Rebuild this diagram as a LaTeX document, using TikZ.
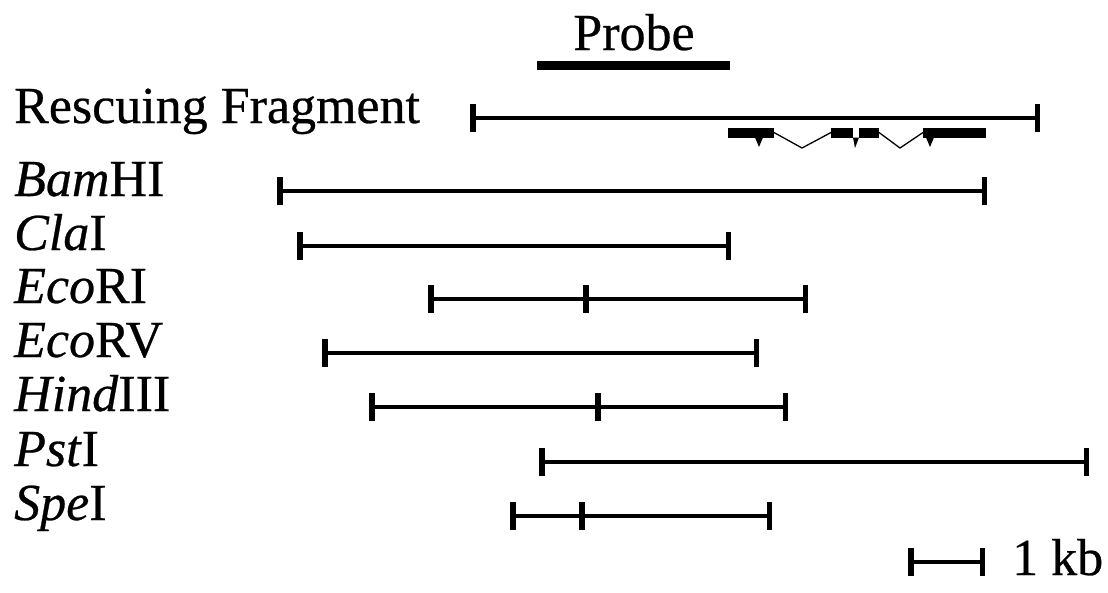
\documentclass[tikz,border=0pt]{standalone}
\usepackage{fontspec}
\setmainfont{Liberation Serif}[UprightFeatures={FakeBold=0.5},ItalicFeatures={FakeBold=0.5}]
\usetikzlibrary{arrows.meta}
\begin{document}
\begin{tikzpicture}[x=1pt,y=-1pt,
  lbl/.style={anchor=base west, inner sep=0pt, font=\fontsize{52}{56}\selectfont},
  frag/.style={line width=4.5pt, {Bar[width=28pt,line width=5.5pt]}-{Bar[width=28pt,line width=5.5pt]}},
  cut/.style={line width=5.5pt},
  exon/.style={fill=black, draw=black, line width=1pt},
  intron/.style={line width=1.3pt}]
\useasboundingbox (0,0) rectangle (1108,592);
% probe
\node[lbl, anchor=base] (probe) at (634,50) {Probe};
\coordinate (pa) at (537,65);
\coordinate (pb) at (730,65);
\draw[line width=9pt] (pa) -- (pb);
% labels
\node[lbl] (rf) at (14,123) {Rescuing Fragment};
\node[lbl] (bam) at (14,196) {\textit{Bam}HI};
\node[lbl] (cla) at (14,250) {\textit{Cla}I};
\node[lbl] (ecori) at (14,303) {\textit{Eco}RI};
\node[lbl] (ecorv) at (14,357) {\textit{Eco}RV};
\node[lbl] (hind) at (14,411) {\textit{Hind}III};
\node[lbl] (pst) at (14,466) {\textit{Pst}I};
\node[lbl] (spe) at (14,520) {\textit{Spe}I};
% fragments
\coordinate (r1) at (470,118); \coordinate (r2) at (1040,118);
\draw[frag] (r1) -- (r2);
\coordinate (b1) at (277,191); \coordinate (b2) at (987,191);
\draw[frag] (b1) -- (b2);
\coordinate (c1) at (297,246); \coordinate (c2) at (731,246);
\draw[frag] (c1) -- (c2);
\coordinate (e1) at (428,299); \coordinate (em) at (586,299); \coordinate (e2) at (808,299);
\draw[frag] (e1) -- (e2);
\draw[cut] ([yshift=-14pt]em) -- ([yshift=14pt]em);
\coordinate (v1) at (322,353); \coordinate (v2) at (759,353);
\draw[frag] (v1) -- (v2);
\coordinate (h1) at (369,407); \coordinate (hm) at (598,407); \coordinate (h2) at (788,407);
\draw[frag] (h1) -- (h2);
\draw[cut] ([yshift=-14pt]hm) -- ([yshift=14pt]hm);
\coordinate (p1) at (539,462); \coordinate (p2) at (1089,462);
\draw[frag] (p1) -- (p2);
\coordinate (s1) at (510,516); \coordinate (sm) at (582,516); \coordinate (s2) at (772,516);
\draw[frag] (s1) -- (s2);
\draw[cut] ([yshift=-14pt]sm) -- ([yshift=14pt]sm);
% gene structure
\node[exon, minimum width=45pt, minimum height=9pt, inner sep=0pt, anchor=west] (x1) at (728,132.5) {};
\node[exon, minimum width=21pt, minimum height=9pt, inner sep=0pt, anchor=west] (x2) at (831,132.5) {};
\node[exon, minimum width=19pt, minimum height=9pt, inner sep=0pt, anchor=west] (x3) at (859,132.5) {};
\node[exon, minimum width=62pt, minimum height=9pt, inner sep=0pt, anchor=west] (x4) at (923,132.5) {};
\coordinate (i1) at (802,148);
\coordinate (i2) at (900,148);
\draw[intron] (x1.east) -- (i1) -- (x2.west);
\draw[intron] (x3.east) -- (i2) -- (x4.west);
\coordinate (t1) at (759,147);
\coordinate (t2) at (855,148);
\coordinate (t3) at (930,147);
\fill ([xshift=-4pt]x1.south -| t1) -- (t1) -- ([xshift=4pt]x1.south -| t1) -- cycle;
\fill (x2.south east) -- (t2) -- (x3.south west) -- cycle;
\fill ([xshift=-4pt]x4.south -| t3) -- (t3) -- ([xshift=4pt]x4.south -| t3) -- cycle;
% scale bar
\coordinate (k1) at (908,562); \coordinate (k2) at (985,562);
\draw[frag] (k1) -- (k2);
\node[lbl] (kb) at (1012,575) {1 kb};
\end{tikzpicture}
\end{document}
